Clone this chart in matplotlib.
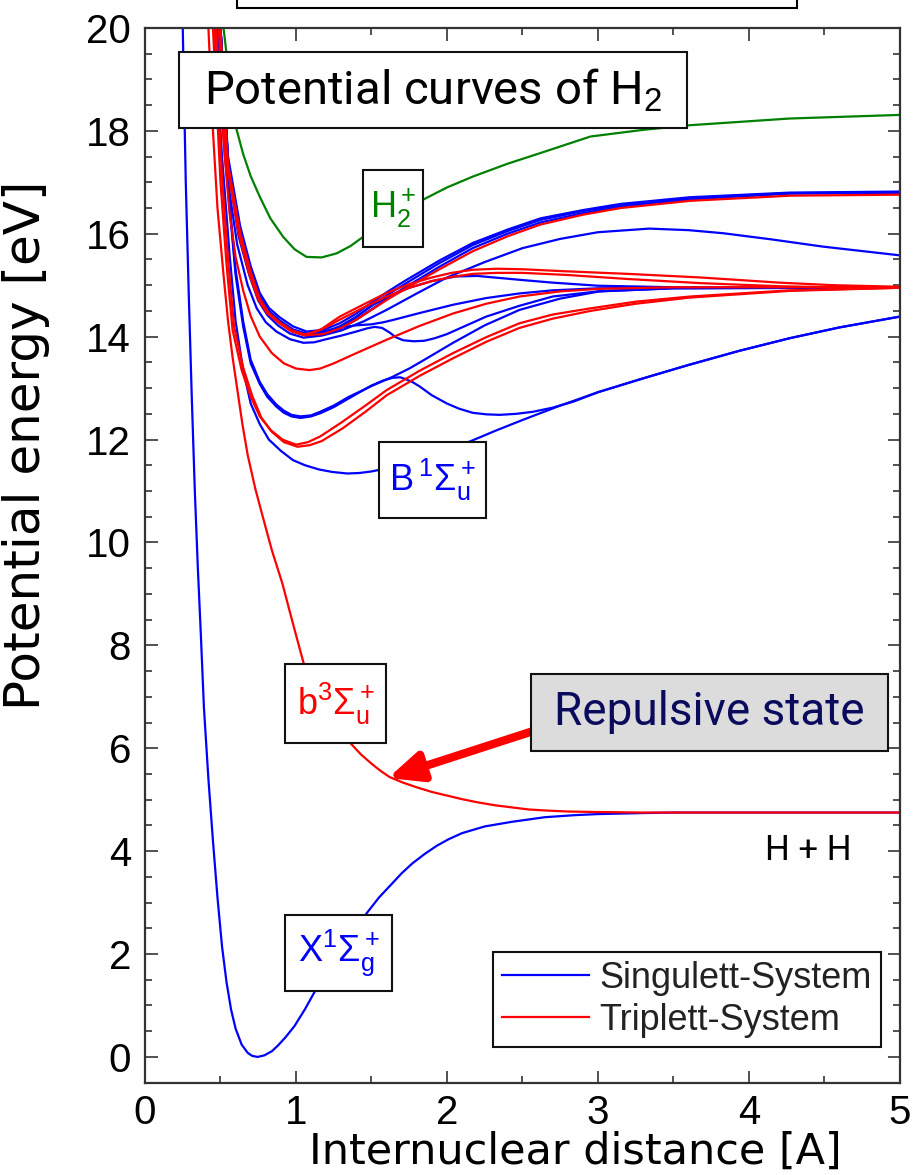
import matplotlib.pyplot as plt
from matplotlib.patches import Rectangle
from matplotlib.ticker import MultipleLocator

# ground state X1Sg+
x_X = [0.25, 0.27, 0.29, 0.31, 0.33, 0.35, 0.37, 0.39, 0.42, 0.45, 0.48, 0.51, 0.54, 0.57, 0.60, 0.64, 0.68, 0.71,
       0.746, 0.79, 0.84, 0.88, 0.93, 0.99, 1.06, 1.13, 1.21, 1.30, 1.38, 1.47, 1.55, 1.63, 1.70, 1.77, 1.85,
       1.93, 2.01, 2.10, 2.25, 2.43, 2.65, 2.85, 3.00, 3.30, 3.50, 5.00]
y_X = [20.0, 17.0, 14.8, 12.8, 11.0, 9.5, 8.2, 6.8, 5.4, 4.2, 3.1, 2.15, 1.45, 0.92, 0.55, 0.24, 0.08, 0.02,
       0.0, 0.03, 0.11, 0.22, 0.38, 0.60, 0.93, 1.30, 1.68, 2.05, 2.42, 2.80, 3.10, 3.35, 3.57, 3.76, 3.94,
       4.10, 4.23, 4.35, 4.48, 4.57, 4.66, 4.70, 4.72, 4.74, 4.75, 4.75]

# repulsive b3Su+
x_b = [0.42, 0.45, 0.48, 0.52, 0.55, 0.58, 0.61, 0.645, 0.68, 0.73, 0.78, 0.84, 0.91, 0.98, 1.05, 1.12, 1.20,
       1.28, 1.36, 1.43, 1.50, 1.56, 1.62, 1.71, 1.80, 1.90, 2.00, 2.10, 2.20, 2.32, 2.43, 2.54, 2.65, 2.80,
       3.00, 3.30, 5.00]
y_b = [20.0, 18.0, 16.5, 15.2, 14.3, 13.6, 13.0, 12.3, 11.7, 11.05, 10.5, 9.85, 9.2, 8.42, 7.66, 7.2, 6.8,
       6.42, 6.1, 5.88, 5.7, 5.56, 5.44, 5.33, 5.24, 5.15, 5.08, 5.01, 4.95, 4.89, 4.85, 4.81, 4.79, 4.77,
       4.76, 4.75, 4.75]

# B1Su+
x_B = [0.46, 0.51, 0.56, 0.60, 0.65, 0.70, 0.76, 0.82, 0.90, 0.98, 1.06, 1.15, 1.24, 1.34, 1.42, 1.50, 1.60,
       1.70, 1.80, 1.90, 2.02, 2.15, 2.32, 2.50, 2.75, 3.00, 3.30, 3.60, 3.93, 4.27, 4.60, 5.00]
y_B = [20.0, 17.5, 15.6, 14.3, 13.35, 12.7, 12.3, 12.0, 11.78, 11.6, 11.5, 11.42, 11.37, 11.34, 11.35, 11.38,
       11.44, 11.52, 11.61, 11.72, 11.84, 11.96, 12.17, 12.38, 12.66, 12.92, 13.19, 13.45, 13.72, 13.97, 14.18,
       14.39]

# EF (double well)
x_EF = [0.48, 0.53, 0.60, 0.65, 0.70, 0.76, 0.81, 0.87, 0.92, 0.97, 1.03, 1.10, 1.16, 1.25, 1.35, 1.50, 1.58,
        1.64, 1.69, 1.72, 1.77, 1.82, 1.90, 2.00, 2.08, 2.17, 2.26, 2.35, 2.46, 2.57, 2.70, 2.84, 3.00, 3.30,
        3.60, 3.93, 4.27, 4.60, 5.00]
y_EF = [20.0, 17.5, 15.2, 14.2, 13.48, 13.08, 12.83, 12.64, 12.52, 12.45, 12.42, 12.45, 12.51, 12.63, 12.80,
        13.05, 13.15, 13.20, 13.21, 13.18, 13.12, 13.03, 12.86, 12.70, 12.60, 12.52, 12.49, 12.48, 12.50, 12.54,
        12.62, 12.74, 12.92, 13.19, 13.45, 13.72, 13.97, 14.18, 14.39]

# C1Pu
x_C = [0.48, 0.53, 0.60, 0.65, 0.70, 0.76, 0.81, 0.87, 0.92, 0.97, 1.03, 1.10, 1.16, 1.25, 1.35, 1.50, 1.64,
       1.75, 1.85, 2.04, 2.25, 2.48, 2.75, 3.01, 3.50, 4.20, 5.00]
y_C = [20.0, 17.6, 15.3, 14.3, 13.55, 13.12, 12.88, 12.68, 12.56, 12.48, 12.45, 12.47, 12.54, 12.66, 12.83,
       13.04, 13.22, 13.38, 13.55, 13.88, 14.22, 14.52, 14.74, 14.88, 14.94, 14.95, 14.95]

# singlet with avoided crossing kink
x_D = [0.49, 0.54, 0.61, 0.68, 0.74, 0.80, 0.87, 0.96, 1.05, 1.12, 1.20, 1.30, 1.40, 1.47, 1.52, 1.57, 1.62,
       1.66, 1.71, 1.78, 1.85, 1.92, 2.00, 2.13, 2.26, 2.48, 2.70, 3.00, 3.50, 5.00]
y_D = [20.0, 17.2, 15.8, 15.0, 14.55, 14.28, 14.1, 13.95, 13.88, 13.89, 13.95, 14.02, 14.10, 14.16, 14.19,
       14.17, 14.08, 13.99, 13.93, 13.91, 13.92, 13.97, 14.05, 14.22, 14.39, 14.60, 14.78, 14.88, 14.94, 14.95]

x_K = [0.50, 0.55, 0.63, 0.70, 0.76, 0.82, 0.89, 0.98, 1.07, 1.18, 1.30, 1.40, 1.50, 1.58, 1.65, 1.82, 2.04,
       2.26, 2.48, 2.70, 3.00, 3.50, 5.00]
y_K = [20.0, 17.4, 16.05, 15.28, 14.77, 14.49, 14.31, 14.13, 14.06, 14.10, 14.18, 14.22, 14.24, 14.28, 14.33,
       14.46, 14.62, 14.75, 14.84, 14.90, 14.94, 14.95, 14.95]

# singlet with hump near 15.2
x_bh = [0.50, 0.55, 0.63, 0.70, 0.76, 0.82, 0.89, 0.98, 1.07, 1.18, 1.29, 1.40, 1.51, 1.63, 1.75, 1.90, 2.06,
        2.20, 2.35, 2.50, 2.70, 3.00, 3.50, 4.00, 5.00]
y_bh = [20.0, 17.4, 16.05, 15.28, 14.76, 14.48, 14.30, 14.12, 14.03, 14.07, 14.18, 14.38, 14.62, 14.80, 14.95,
        15.08, 15.17, 15.18, 15.14, 15.10, 15.05, 14.99, 14.96, 14.95, 14.95]

# singlet peaking near 16.1
x_b16 = [0.49, 0.55, 0.62, 0.69, 0.75, 0.81, 0.88, 0.96, 1.05, 1.17, 1.30, 1.45, 1.60, 1.80, 2.00, 2.25, 2.50,
         2.75, 3.00, 3.34, 3.60, 3.83, 4.15, 4.49, 5.00]
y_b16 = [20.0, 17.3, 15.95, 15.2, 14.7, 14.42, 14.22, 14.06, 13.98, 14.02, 14.12, 14.30, 14.52, 14.84, 15.15,
         15.45, 15.72, 15.90, 16.03, 16.10, 16.07, 16.01, 15.89, 15.75, 15.58]

# n=3 bundle
x_n3 = [0.50, 0.55, 0.63, 0.70, 0.76, 0.82, 0.89, 0.98, 1.07, 1.18, 1.29, 1.40, 1.50, 1.61, 1.73, 1.95, 2.17,
        2.40, 2.62, 2.90, 3.15, 3.61, 4.27, 5.00]
y_n3a = [20.0, 17.4, 16.07, 15.3, 14.78, 14.5, 14.32, 14.14, 14.05, 14.08, 14.20, 14.39, 14.60, 14.82, 15.04,
         15.43, 15.78, 16.05, 16.27, 16.44, 16.56, 16.69, 16.79, 16.80]
y_n3b = [20.0, 17.5, 16.15, 15.37, 14.85, 14.56, 14.38, 14.2, 14.10, 14.13, 14.26, 14.45, 14.66, 14.88, 15.10,
         15.48, 15.82, 16.08, 16.30, 16.46, 16.58, 16.71, 16.80, 16.82]
y_n3c = [20.0, 17.3, 16.0, 15.24, 14.72, 14.45, 14.27, 14.1, 14.02, 14.04, 14.15, 14.33, 14.53, 14.75, 14.97,
         15.36, 15.72, 16.00, 16.22, 16.40, 16.53, 16.67, 16.78, 16.80]
y_n3r = [20.0, 17.35, 16.02, 15.26, 14.74, 14.46, 14.28, 14.11, 14.03, 14.05, 14.16, 14.33, 14.52, 14.73, 14.94,
         15.31, 15.66, 15.95, 16.18, 16.37, 16.50, 16.64, 16.74, 16.76]

# triplets a / c
x_a = [0.45, 0.50, 0.54, 0.58, 0.64, 0.70, 0.76, 0.83, 0.91, 1.00, 1.08, 1.16, 1.30, 1.45, 1.60, 1.82, 2.04,
       2.26, 2.48, 2.70, 2.95, 3.25, 3.61, 4.27, 5.00]
y_a = [20.0, 17.0, 15.4, 14.13, 13.35, 12.83, 12.45, 12.19, 12.0, 11.90, 11.95, 12.06, 12.33, 12.64, 12.96,
       13.34, 13.68, 13.99, 14.26, 14.43, 14.55, 14.68, 14.78, 14.90, 14.95]
x_c = [0.46, 0.51, 0.55, 0.59, 0.65, 0.71, 0.77, 0.84, 0.92, 1.01, 1.09, 1.17, 1.31, 1.46, 1.60, 1.82, 2.04,
       2.26, 2.48, 2.70, 2.95, 3.25, 3.61, 4.27, 5.00]
y_c = [20.0, 17.1, 15.5, 14.2, 13.4, 12.85, 12.43, 12.15, 11.95, 11.86, 11.89, 11.97, 12.22, 12.54, 12.86,
       13.24, 13.58, 13.90, 14.17, 14.35, 14.50, 14.64, 14.76, 14.89, 14.95]

# triplet near 13.35
x_r2 = [0.47, 0.52, 0.56, 0.60, 0.65, 0.70, 0.76, 0.84, 0.92, 1.00, 1.09, 1.16, 1.25, 1.40, 1.60, 1.82, 2.04,
        2.26, 2.48, 2.75, 3.01, 3.50, 5.00]
y_r2 = [20.0, 17.8, 16.4, 15.55, 14.9, 14.4, 14.0, 13.68, 13.48, 13.38, 13.35, 13.38, 13.48, 13.68, 13.94,
        14.21, 14.45, 14.64, 14.78, 14.88, 14.93, 14.96, 14.96]

# triplets with hump near 15.3
x_rh = [0.49, 0.54, 0.62, 0.69, 0.75, 0.81, 0.88, 0.97, 1.06, 1.17, 1.29, 1.45, 1.60, 1.75, 1.90, 2.03, 2.17,
        2.33, 2.50, 2.79, 3.20, 3.68, 4.20, 4.56, 5.00]
y_rh1 = [20.0, 17.4, 16.0, 15.22, 14.72, 14.45, 14.28, 14.1, 14.02, 14.15, 14.39, 14.63, 14.85, 15.02, 15.15,
         15.24, 15.30, 15.32, 15.31, 15.27, 15.22, 15.15, 15.05, 15.00, 14.97]
y_rh2 = [20.0, 17.45, 16.05, 15.26, 14.75, 14.48, 14.3, 14.12, 14.04, 14.14, 14.33, 14.57, 14.78, 14.95, 15.08,
         15.16, 15.22, 15.24, 15.24, 15.20, 15.12, 15.04, 14.98, 14.96, 14.95]

# H2+ ion
x_H2p = [0.52, 0.56, 0.607, 0.65, 0.70, 0.76, 0.83, 0.915, 0.99, 1.07, 1.17, 1.27, 1.36, 1.445, 1.84, 2.00,
         2.17, 2.40, 2.62, 2.95, 3.30, 3.61, 4.27, 5.00]
y_H2p = [20.0, 19.0, 18.02, 17.55, 17.12, 16.72, 16.30, 15.94, 15.70, 15.55, 15.54, 15.62, 15.76, 15.94, 16.66,
         16.90, 17.11, 17.36, 17.57, 17.89, 18.02, 18.11, 18.24, 18.31]

singlets = [(x_X, y_X), (x_B, y_B), (x_EF, y_EF), (x_C, y_C), (x_D, y_D), (x_K, y_K), (x_bh, y_bh),
            (x_b16, y_b16), (x_n3, y_n3a), (x_n3, y_n3b), (x_n3, y_n3c)]
triplets = [(x_b, y_b), (x_a, y_a), (x_c, y_c), (x_r2, y_r2), (x_rh, y_rh1), (x_rh, y_rh2), (x_n3, y_n3r)]

plt.rcParams['font.family'] = ['Liberation Sans', 'DejaVu Sans']
plt.rcParams['mathtext.fontset'] = 'custom'
plt.rcParams['mathtext.rm'] = 'Liberation Sans'
plt.rcParams['mathtext.it'] = 'Liberation Sans:italic'
plt.rcParams['mathtext.bf'] = 'Liberation Sans:bold'

fig = plt.figure(figsize=(9.16, 11.75), dpi=100)
ax = fig.add_axes([0.1583, 0.0786, 0.8242, 0.8976])

for i, (xs, ys) in enumerate(singlets):
    ax.plot(xs, ys, color='#0000ff', lw=1.6, solid_joinstyle='round',
            label='Singulett-System' if i == 0 else None)
for i, (xs, ys) in enumerate(triplets):
    ax.plot(xs, ys, color='#ff0000', lw=1.6, solid_joinstyle='round',
            label='Triplett-System' if i == 0 else None)
ax.plot(x_H2p, y_H2p, color='#008000', lw=1.6, solid_joinstyle='round')

ax.set_xlim(0, 5)
ax.set_ylim(-0.5, 20)
ax.xaxis.set_major_locator(MultipleLocator(1))
ax.xaxis.set_minor_locator(MultipleLocator(0.5))
ax.yaxis.set_major_locator(MultipleLocator(2))
ax.yaxis.set_minor_locator(MultipleLocator(0.5))
ax.tick_params(which='both', direction='in', top=True, right=True, width=1.2, color='#333333')
ax.tick_params(which='major', length=9, labelsize=29)
ax.tick_params(axis='y', which='major', pad=10)
ax.tick_params(axis='x', which='major', pad=8)
ax.tick_params(which='minor', length=5)
for s in ax.spines.values():
    s.set_linewidth(1.6)
    s.set_color('#333333')

ax.set_xlabel('Internuclear distance [A]', fontsize=31, family='DejaVu Sans')
ax.xaxis.set_label_coords(0.5695, -0.0455)
ax.set_ylabel('Potential energy [eV]', fontsize=36, family='DejaVu Sans')
ax.yaxis.set_label_coords(-0.126, 0.6046)


def boxed(x0, x1, y0, y1, text, color, size, fc='white', family=None, z=5):
    ax.add_patch(Rectangle((x0, y0), x1 - x0, y1 - y0, fc=fc, ec='#111111', lw=1.5, zorder=z))
    kw = {'family': family} if family else {}
    ax.text((x0 + x1) / 2, (y0 + y1) / 2, text, color=color, fontsize=size, ha='center', va='center',
            zorder=z + 0.5, **kw)


boxed(1.444, 1.841, 15.74, 17.24, r'H$_2^+$', '#008000', 26)
boxed(1.550, 2.258, 10.48, 11.95, r'B$\,^1\Sigma_\mathrm{u}^+$', '#0000ff', 26)
boxed(0.927, 1.596, 6.10, 7.64, r'b$^3\Sigma_\mathrm{u}^+$', '#ff0000', 26)
boxed(0.927, 1.636, 1.28, 2.76, r'X$^1\Sigma_\mathrm{g}^+$', '#0000ff', 26)
boxed(0.225, 3.589, 18.06, 19.53, r'Potential curves of H$_2$', 'black', 34, family='Roboto')

ax.annotate('', xy=(1.609, 5.42), xytext=(2.556, 6.32), zorder=6,
            arrowprops=dict(arrowstyle='-|>,head_length=0.9,head_width=0.4', color='#ff0000', lw=6,
                            mutation_scale=22, shrinkA=0, shrinkB=0))
boxed(2.556, 4.921, 5.95, 7.44, 'Repulsive state', '#0b0b5e', 33, fc='#dcdcdc', family='Roboto', z=7)
ax.text(4.391, 4.02, 'H + H', family='Roboto', fontsize=25, ha='center', va='center')

leg = ax.legend(loc='lower right', bbox_to_anchor=(0.975, 0.034), borderaxespad=0, fontsize=26,
                handlelength=2.4, handletextpad=0.3, labelspacing=0.2, borderpad=0.25,
                fancybox=False, edgecolor='#111111', framealpha=1, labelcolor='#222222')
leg.get_frame().set_linewidth(1.5)

fig.add_artist(Rectangle((237 / 916, 1 - 8 / 1175), (797 - 237) / 916, 0.05, transform=fig.transFigure,
                         fc='white', ec='black', lw=1.5, clip_on=False))

fig.savefig('out.png', dpi=100)
